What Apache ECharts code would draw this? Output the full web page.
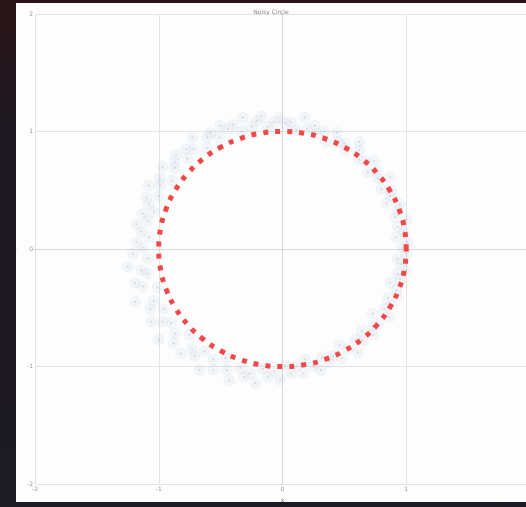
<!DOCTYPE html>
<html><head><meta charset="utf-8">
<script src="https://cdn.jsdelivr.net/npm/echarts@6/dist/echarts.min.js"></script>
<style>
html,body{margin:0;padding:0;width:526px;height:507px;overflow:hidden;background:#1f1a22;}
#frame{position:absolute;left:0;top:0;width:526px;height:507px;
background:linear-gradient(180deg,#2a1418 0px,#1e1820 120px,#1c1a22 507px);}
#chart{position:absolute;left:16px;top:3px;width:510px;height:499px;background:#fdfdfd;}
</style></head>
<body><div id="frame"></div><div id="chart"></div>
<script>
// Title and axis names
const titleText = "Noisy Circle";
const xName = "x";
const yName = "y";
// Axis ticks
const xTicks = [-2, -1, 0, 1, 2];
const yTicks = [-2, -1, 0, 1, 2];
// Noisy ring points
const ringX = [0.97,1.01,0.92,0.98,0.93,1.00,0.91,0.93,0.95,0.84,0.87,0.88,0.80,0.87,0.77,0.77,0.69,0.74,0.67,0.62,0.62,0.62,0.51,0.50,0.45,0.44,0.35,0.34,0.28,0.26,0.20,0.18,0.11,0.07,0.02,-0.02,
-0.07,-0.12,-0.17,-0.21,-0.25,-0.32,-0.33,-0.40,-0.44,-0.50,-0.51,-0.58,-0.61,-0.61,-0.73,-0.72,-0.78,-0.77,-0.86,-0.87,-0.87,-0.97,-0.89,-0.99,-0.99,-1.08,-1.00,-1.10,-1.08,-1.04,-1.13,-1.09,-1.18,-1.14,-1.08,-1.18,
-1.13,-1.21,-1.09,-1.25,-1.14,-1.09,-1.19,-1.13,-1.01,-1.19,-1.04,-1.07,-0.96,-1.06,-0.97,-0.90,-1.00,-0.87,-0.88,-0.75,-0.82,-0.73,-0.71,-0.63,-0.67,-0.56,-0.56,-0.46,-0.45,-0.43,-0.34,-0.31,-0.26,-0.22,-0.16,-0.12,
-0.07,-0.02,0.02,0.07,0.11,0.17,0.18,0.25,0.31,0.32,0.38,0.41,0.48,0.46,0.53,0.61,0.59,0.65,0.64,0.73,0.73,0.77,0.73,0.86,0.82,0.88,0.85,0.93,0.92,0.87,0.95,0.93,1.00,0.96,0.93,1.00];
const ringY = [0.01,0.06,0.10,0.15,0.19,0.25,0.27,0.33,0.38,0.39,0.45,0.50,0.51,0.61,0.60,0.66,0.65,0.75,0.75,0.76,0.84,0.91,0.84,0.90,0.91,0.99,0.91,1.00,0.98,1.05,1.02,1.12,1.01,1.08,1.07,1.12,
1.08,1.04,1.13,1.09,1.04,1.12,1.00,1.06,1.02,1.05,0.95,0.99,0.95,0.86,0.95,0.85,0.85,0.77,0.80,0.74,0.69,0.70,0.58,0.60,0.54,0.54,0.45,0.44,0.38,0.32,0.30,0.24,0.21,0.15,0.10,0.06,
0.01,-0.04,-0.08,-0.15,-0.18,-0.21,-0.29,-0.32,-0.33,-0.45,-0.44,-0.51,-0.51,-0.62,-0.62,-0.63,-0.77,-0.72,-0.80,-0.73,-0.89,-0.85,-0.91,-0.87,-1.03,-0.94,-1.03,-0.93,-1.03,-1.12,-1.01,-1.09,-1.06,-1.14,-1.02,-1.09,
-1.04,-1.11,-0.99,-1.06,-1.00,-1.06,-0.94,-1.00,-1.03,-0.92,-0.96,-0.91,-0.93,-0.82,-0.85,-0.88,-0.77,-0.78,-0.70,-0.73,-0.66,-0.64,-0.55,-0.58,-0.51,-0.48,-0.42,-0.40,-0.35,-0.29,-0.26,-0.21,-0.18,-0.13,-0.08,-0.04];
// Reference unit circle (10 degree steps)
const circleX = [1,0.985,0.940,0.866,0.766,0.643,0.5,0.342,0.174,0,-0.174,-0.342,-0.5,-0.643,-0.766,-0.866,-0.940,-0.985,-1,-0.985,-0.940,-0.866,-0.766,-0.643,-0.5,-0.342,-0.174,0,0.174,0.342,0.5,0.643,0.766,0.866,0.940,0.985,1];
const circleY = [0,0.174,0.342,0.5,0.643,0.766,0.866,0.940,0.985,1,0.985,0.940,0.866,0.766,0.643,0.5,0.342,0.174,0,-0.174,-0.342,-0.5,-0.643,-0.766,-0.866,-0.940,-0.985,-1,-0.985,-0.940,-0.866,-0.766,-0.643,-0.5,-0.342,-0.174,0];

const ring = ringX.map((x, i) => [x, ringY[i]]);
const circle = circleX.map((x, i) => [x, circleY[i]]);

const chart = echarts.init(document.getElementById('chart'), null, {renderer: 'canvas'});
const axisCommon = {
  type: 'value', min: -2, max: 2, interval: 1,
  axisLine: {show: true, lineStyle: {color: '#d8d8d8', width: 1}},
  axisTick: {show: true, length: 2, lineStyle: {color: '#cfcfcf'}},
  splitLine: {show: true, lineStyle: {color: '#e4e4e4', width: 1}},
  axisLabel: {fontSize: 6, color: '#9a9a9a', margin: 2, fontFamily: 'DejaVu Sans'},
  nameTextStyle: {fontSize: 6, color: '#777', fontFamily: 'DejaVu Sans'}
};
chart.setOption({
  animation: false,
  backgroundColor: '#fdfdfd',
  title: {text: titleText, left: 'center', top: 1,
    textStyle: {fontSize: 6, color: '#888', fontWeight: 'normal', fontFamily: 'DejaVu Sans'}},
  grid: {left: 19, right: -4, top: 11, bottom: 18, containLabel: false, outerBoundsMode: 'none'},
  xAxis: Object.assign({}, axisCommon, {name: xName, nameLocation: 'middle', nameGap: 13}),
  yAxis: Object.assign({}, axisCommon, {name: yName, nameLocation: 'middle', nameGap: 13, nameRotate: 90}),
  series: [
    {type: 'scatter', data: ring, symbol: 'circle', symbolSize: 12,
     itemStyle: {color: 'rgba(140,170,205,0.12)'}, z: 2},
    {type: 'scatter', data: ring, symbol: 'circle', symbolSize: 2,
     itemStyle: {color: 'rgba(110,135,170,0.35)'}, z: 2},
    {type: 'line', data: circle, smooth: true, symbol: 'none',
     lineStyle: {color: '#f24848', width: 5, type: [5, 7], cap: 'butt'}, z: 3}
  ]
});
</script></body></html>
